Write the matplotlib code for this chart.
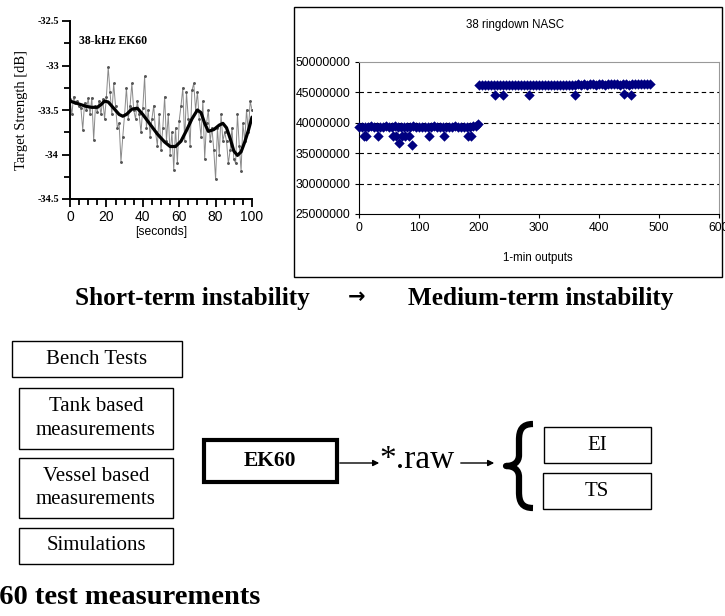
import numpy as np
import matplotlib
matplotlib.use("Agg")
import matplotlib.pyplot as plt
from matplotlib.patches import Rectangle, PathPatch
from matplotlib.path import Path

# --- left chart: 38-kHz EK60 target strength, 1 s samples ---
ts_seconds = list(range(0, 101))
ts_raw = [-33.38, -33.55, -33.35, -33.42, -33.40, -33.45, -33.48, -33.72, -33.42, -33.50,
          -33.37, -33.55, -33.36, -33.84, -33.45, -33.52, -33.40, -33.55, -33.38, -33.60,
          -33.35, -33.02, -33.30, -33.55, -33.20, -33.45, -33.70, -33.65, -34.08, -33.80,
          -33.55, -33.25, -33.60, -33.45, -33.20, -33.50, -33.60, -33.40, -33.55, -33.75,
          -33.48, -33.12, -33.70, -33.50, -33.80, -33.60, -33.45, -33.75, -33.90, -33.55,
          -33.95, -33.70, -33.35, -33.85, -33.55, -34.00, -33.75, -34.17, -33.70, -34.10,
          -33.62, -33.45, -33.25, -33.85, -33.30, -33.60, -33.90, -33.28, -33.20, -33.50,
          -33.30, -33.60, -33.80, -33.40, -34.05, -33.65, -33.50, -33.85, -33.70, -33.95,
          -34.28, -33.70, -34.00, -33.55, -33.85, -33.75, -33.85, -34.10, -33.95, -33.70,
          -34.05, -34.10, -33.55, -33.90, -34.18, -33.65, -33.85, -33.50, -33.75, -33.40,
          -33.50]
smooth_x = [0, 3, 6, 9, 12, 15, 17, 19, 21, 24, 27, 29, 31, 34, 37, 40, 44, 48, 52, 55, 58,
            61, 64, 67, 70, 72, 74, 76, 79, 82, 84, 86, 88, 90, 92, 94, 96, 98, 100]
smooth_y = [-33.40, -33.42, -33.44, -33.46, -33.47, -33.47, -33.44, -33.40, -33.41, -33.48,
            -33.55, -33.57, -33.55, -33.49, -33.48, -33.55, -33.66, -33.77, -33.86, -33.91,
            -33.91, -33.85, -33.73, -33.60, -33.50, -33.53, -33.65, -33.74, -33.72, -33.67,
            -33.65, -33.70, -33.82, -33.96, -34.01, -33.97, -33.86, -33.73, -33.58]

# --- right chart: 38 ringdown NASC, 1-min outputs ---
nasc_low_x = list(range(0, 200, 5)) + [198]
nasc_low = [39.30, 39.35, 39.25, 39.30, 39.40, 39.30, 39.25, 39.35, 39.30, 39.40,
            39.35, 39.30, 39.45, 39.35, 39.30, 39.25, 39.35, 39.30, 39.40, 39.30,
            39.35, 39.30, 39.25, 39.35, 39.30, 39.40, 39.30, 39.35, 39.30, 39.25,
            39.35, 39.30, 39.40, 39.30, 39.35, 39.30, 39.30, 39.35, 39.40, 39.50,
            39.85]
nasc_high_x = list(range(200, 490, 5))
nasc_high = [46.15, 46.20, 46.15, 46.25, 46.20, 46.15, 46.20, 46.25, 46.20, 46.15,
             46.20, 46.25, 46.20, 46.20, 46.15, 46.25, 46.20, 46.20, 46.25, 46.20,
             46.15, 46.20, 46.25, 46.20, 46.20, 46.15, 46.25, 46.20, 46.20, 46.25,
             46.20, 46.20, 46.25, 46.30, 46.25, 46.30, 46.25, 46.30, 46.30, 46.25,
             46.30, 46.30, 46.25, 46.30, 46.35, 46.30, 46.30, 46.25, 46.30, 46.30,
             46.25, 46.30, 46.35, 46.30, 46.30, 46.35, 46.35, 46.40]
outlier_x = [8, 12, 32, 57, 61, 67, 72, 76, 84, 89, 117, 141, 182, 186,
             227, 240, 284, 360, 442, 453]
outlier_y = [37.8, 37.8, 37.8, 37.8, 37.9, 36.6, 37.9, 37.9, 37.8, 36.4, 37.8, 37.8, 37.8, 37.8,
             44.6, 44.6, 44.5, 44.5, 44.7, 44.5]

# --- diagram ---
input_boxes = ["Bench Tests", "Tank based\nmeasurements", "Vessel based\nmeasurements", "Simulations"]
output_boxes = ["EI", "TS"]
caption = ["Short-term instability", "\u2192", "Medium-term instability"]

SERIF = ["Liberation Serif", "DejaVu Serif"]
SANS = ["Liberation Sans", "DejaVu Sans"]
NAVY = "#000080"

W, H = 725, 616


def fig_rect(x0, y0, x1, y1):
    # pixel box (top-left origin) -> figure fraction rect
    return [x0 / W, 1 - y1 / H, (x1 - x0) / W, (y1 - y0) / H]


def main():
    fig = plt.figure(figsize=(W / 100, H / 100), dpi=100)

    # overlay in pixel coordinates for the diagram parts
    ov = fig.add_axes([0, 0, 1, 1])
    ov.set_xlim(0, W)
    ov.set_ylim(H, 0)
    ov.axis("off")
    ov.patch.set_alpha(0)

    # left chart
    ax1 = fig.add_axes(fig_rect(70, 21, 252, 199))
    ax1.plot(ts_seconds, ts_raw, color="#8a8a8a", lw=0.7, marker=".", ms=2.2,
             mfc="#555555", mec="#555555", zorder=2)
    ax1.plot(smooth_x, smooth_y, color="black", lw=2.3, zorder=3, solid_capstyle="round")
    ax1.set_xlim(0, 100)
    ax1.set_ylim(-34.5, -32.5)
    ax1.spines["top"].set_visible(False)
    ax1.spines["right"].set_visible(False)
    for s in ("left", "bottom"):
        ax1.spines[s].set_linewidth(1.4)
    ax1.set_xticks([0, 20, 40, 60, 80, 100])
    ax1.set_xticks(list(range(0, 101, 5)), minor=True)
    ax1.set_yticks([-34.5, -34, -33.5, -33, -32.5])
    ax1.set_yticklabels(["-34.5", "-34", "-33.5", "-33", "-32.5"])
    ax1.set_yticks([-34.25, -33.75, -33.25, -32.75], minor=True)
    ax1.tick_params(which="major", direction="out", width=1.3, length=6)
    ax1.tick_params(which="minor", direction="out", width=1.3, length=4)
    ax1.tick_params(axis="x", labelsize=10, pad=2)
    ax1.tick_params(axis="y", labelsize=7.5, pad=2)
    for lab in ax1.get_xticklabels():
        lab.set_family(SANS)
    for lab in ax1.get_yticklabels():
        lab.set_family(SERIF)
        lab.set_fontweight("bold")
    ax1.set_xlabel("[seconds]", family=SANS, fontsize=8.7, labelpad=1)
    ax1.set_ylabel("Target Strength [dB]", family=SERIF, fontsize=10.5, labelpad=7)
    ax1.text(5, -32.73, "38-kHz EK60", family=SERIF, fontsize=8.5, fontweight="bold",
             va="center", ha="left")

    # right chart frame
    ov.add_patch(Rectangle((294, 7), 428, 270, fill=False, ec="black", lw=1.0))
    ov.text(515, 25, "38 ringdown NASC", family=SANS, fontsize=8.3, ha="center", va="center")
    ov.text(538, 258, "1-min outputs", family=SANS, fontsize=8.3, ha="center", va="center")

    ax2 = fig.add_axes(fig_rect(359, 62, 719, 214))
    yl = np.array(nasc_low) * 1e6
    yh = np.array(nasc_high) * 1e6
    yo = np.array(outlier_y) * 1e6
    mk = dict(marker="D", s=28, color=NAVY, linewidths=0, zorder=3, clip_on=False)
    ax2.scatter(nasc_low_x, yl, **mk)
    ax2.scatter(nasc_high_x, yh, **mk)
    ax2.scatter(outlier_x, yo, **mk)
    ax2.set_xlim(0, 600)
    ax2.set_ylim(25e6, 50e6)
    ax2.set_xticks([0, 100, 200, 300, 400, 500, 600])
    ax2.set_yticks([25e6, 30e6, 35e6, 40e6, 45e6, 50e6])
    ax2.set_yticklabels(["25000000", "30000000", "35000000", "40000000", "45000000", "50000000"])
    for g in [30e6, 35e6, 40e6, 45e6]:
        ax2.axhline(g, color="black", lw=0.8, ls=(0, (4, 3)), zorder=1)
    ax2.spines["top"].set_color("#999999")
    ax2.spines["right"].set_color("#999999")
    ax2.tick_params(which="both", direction="out", length=3, labelsize=8.8, pad=3)
    for lab in ax2.get_xticklabels() + ax2.get_yticklabels():
        lab.set_family(SANS)

    # caption between charts and diagram
    ov.text(75, 298, caption[0], family=SERIF, fontsize=18.2, fontweight="bold", ha="left", va="center")
    ov.text(357, 297, caption[1], family=["DejaVu Sans"], fontsize=15, fontweight="bold",
            ha="center", va="center")
    ov.text(408, 298, caption[2], family=SERIF, fontsize=18.2, fontweight="bold", ha="left", va="center")

    # input boxes
    in_pos = [(12, 341, 182, 377), (19, 388, 173, 449), (19, 458, 173, 518), (19, 528, 173, 564)]
    for label, (x0, y0, x1, y1) in zip(input_boxes, in_pos):
        ov.add_patch(Rectangle((x0, y0), x1 - x0, y1 - y0, fill=False, ec="black", lw=1.0))
        ov.text((x0 + x1) / 2, (y0 + y1) / 2, label, family=SERIF, fontsize=15,
                ha="center", va="center", linespacing=1.3)

    # EK60 box
    ov.add_patch(Rectangle((204, 440), 133, 42, fill=False, ec="black", lw=3.0))
    ov.text(270, 461, "EK60", family=SERIF, fontsize=15.5, fontweight="bold", ha="center", va="center")

    # arrows and raw file
    ov.annotate("", xy=(382, 463), xytext=(337, 463),
                arrowprops=dict(arrowstyle="-|>", color="black", lw=1.0, mutation_scale=9))
    ov.text(417, 460, "*.raw", family=SERIF, fontsize=24, ha="center", va="center")
    ov.annotate("", xy=(497, 463), xytext=(458, 463),
                arrowprops=dict(arrowstyle="-|>", color="black", lw=1.0, mutation_scale=9))

    # brace
    verts = [(533, 424), (522, 424), (519, 430), (519, 440),
             (519, 455),
             (519, 462), (514, 466), (506, 466),
             (514, 466), (519, 470), (519, 477),
             (519, 492),
             (519, 502), (522, 508), (533, 508)]
    codes = [Path.MOVETO, Path.CURVE4, Path.CURVE4, Path.CURVE4,
             Path.LINETO,
             Path.CURVE4, Path.CURVE4, Path.CURVE4,
             Path.CURVE4, Path.CURVE4, Path.CURVE4,
             Path.LINETO,
             Path.CURVE4, Path.CURVE4, Path.CURVE4]
    ov.add_patch(PathPatch(Path(verts, codes), fill=False, ec="black", lw=4.5,
                           capstyle="butt", joinstyle="round"))

    # output boxes
    out_pos = [(544, 427, 651, 463), (543, 473, 651, 509)]
    for label, (x0, y0, x1, y1) in zip(output_boxes, out_pos):
        ov.add_patch(Rectangle((x0, y0), x1 - x0, y1 - y0, fill=False, ec="black", lw=1.0))
        ov.text((x0 + x1) / 2, (y0 + y1) / 2, label, family=SERIF, fontsize=15,
                ha="center", va="center")

    # bottom title, cut off at the left edge
    ov.text(260, 597, "EK60 test measurements", family=SERIF, fontsize=20.5, fontweight="bold",
            ha="right", va="center", clip_on=False)

    fig.savefig("out.png", dpi=100)


if __name__ == "__main__":
    main()
